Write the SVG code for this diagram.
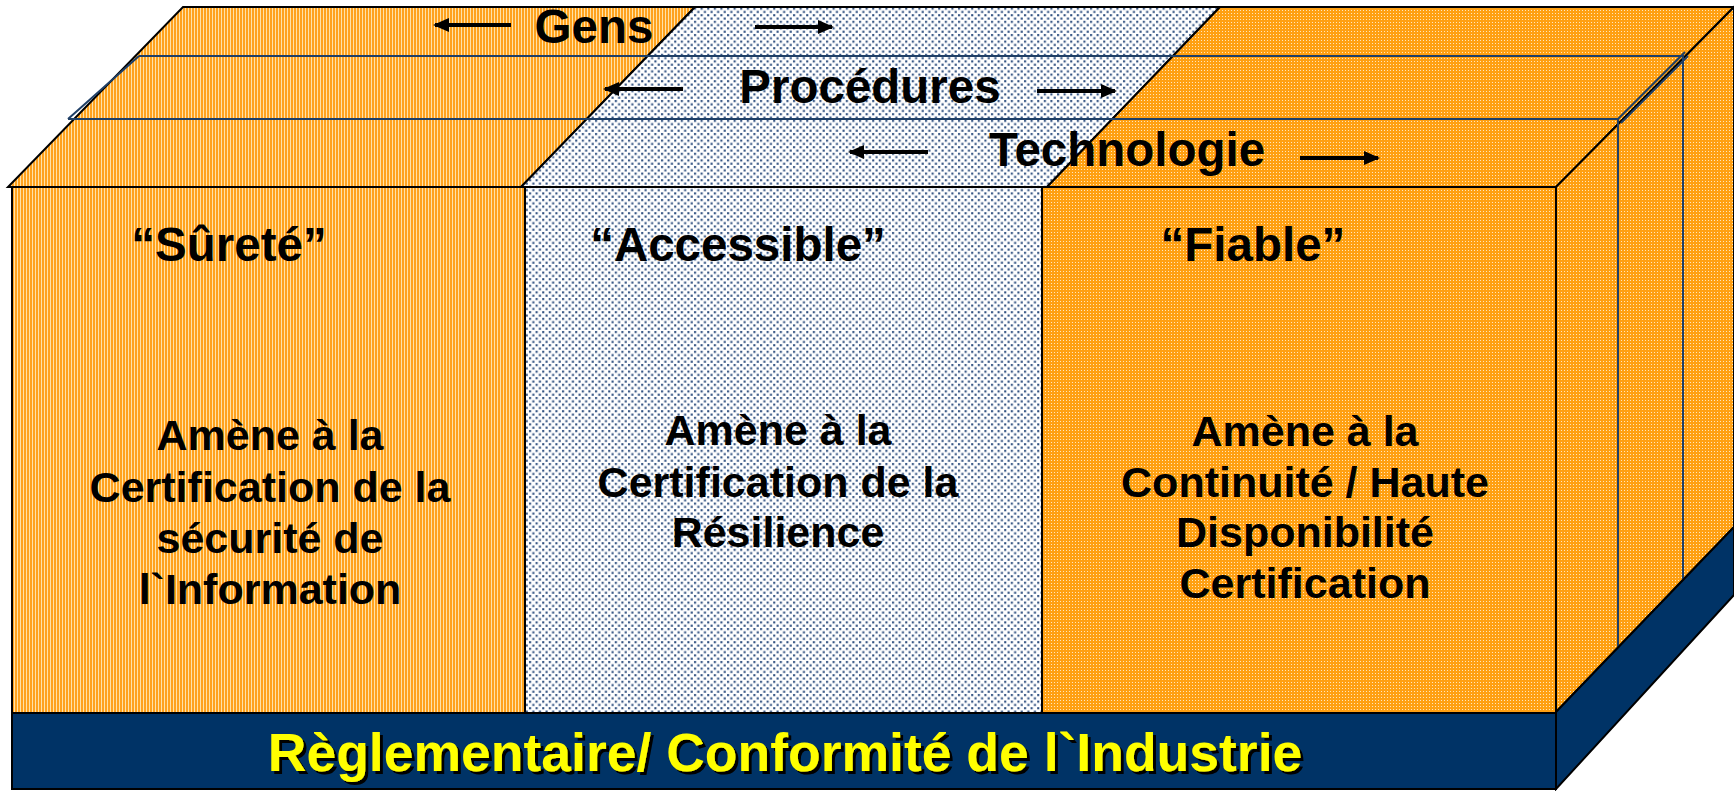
<svg xmlns="http://www.w3.org/2000/svg" width="1734" height="791" viewBox="0 0 1734 791">
  <defs>
    <pattern id="stripes" width="3" height="6" patternUnits="userSpaceOnUse">
      <rect width="3" height="6" fill="#FFA21E"/>
      <rect x="2" width="1" height="6" fill="#FFE2A8"/>
    </pattern>
    <pattern id="grid" width="3" height="3" patternUnits="userSpaceOnUse">
      <rect width="3" height="3" fill="#FFA012"/>
      <rect x="1" y="1" width="1" height="1" fill="#FFE6BC"/>
    </pattern>
    <pattern id="dots" width="6.6" height="6.6" patternUnits="userSpaceOnUse">
      <rect width="6.6" height="6.6" fill="#FFFFFF"/>
      <rect x="1" y="1" width="2.1" height="2.1" fill="#2F5080"/>
      <rect x="4.3" y="4.3" width="2.1" height="2.1" fill="#2F5080"/>
    </pattern>
    <marker id="head" viewBox="0 0 16 14" refX="14" refY="7" markerWidth="16" markerHeight="14" markerUnits="userSpaceOnUse" orient="auto">
      <path d="M0,0 L16,7 L0,14 z" fill="#000"/>
    </marker>
    <filter id="shadow" x="-5%" y="-20%" width="110%" height="140%">
      <feDropShadow dx="3" dy="3" stdDeviation="0" flood-color="#000"/>
    </filter>
  </defs>
  <style>
    .edge { stroke: #000; stroke-width: 2; stroke-linejoin: miter; }
    .layer { fill: none; stroke: #1F3F66; stroke-width: 2; }
    .lbl { font-family: "Liberation Sans", Arial, sans-serif; font-weight: bold; fill: #000; text-anchor: middle; }
    .big { font-size: 47.5px; }
    .body { font-size: 43px; }
    .band-txt { font-family: "Liberation Sans", Arial, sans-serif; font-weight: bold; font-size: 53.5px; fill: #FFFF00; text-anchor: middle; }
    .arr { stroke: #000; stroke-width: 4; fill: none; marker-end: url(#head); }
  </style>

  <g id="top-face">
    <polygon class="edge" points="183,7 695,7 521,187 8,187" fill="url(#stripes)"/>
    <polygon class="edge" points="695,7 1220,7 1047,187 521,187" fill="url(#dots)"/>
    <polygon class="edge" points="1220,7 1734,7 1556,187 1047,187" fill="url(#grid)"/>
  </g>

  <g id="right-face">
    <polygon class="edge" points="1556,187 1734,7 1734,527 1556,712" fill="url(#grid)"/>
  </g>

  <g id="col-surete">
    <rect class="edge" x="12" y="187" width="513" height="526" fill="url(#stripes)"/>
    <text class="lbl big" x="229" y="261">“Sûreté”</text>
    <text class="lbl body" x="270" y="450">Amène à la</text>
    <text class="lbl body" x="270" y="502">Certification de la</text>
    <text class="lbl body" x="270" y="553">sécurité de</text>
    <text class="lbl body" x="270" y="604">l`Information</text>
  </g>

  <g id="col-accessible">
    <rect class="edge" x="525" y="187" width="517" height="526" fill="url(#dots)"/>
    <text class="lbl big" x="738" y="261">“Accessible”</text>
    <text class="lbl body" x="778" y="445">Amène à la</text>
    <text class="lbl body" x="778" y="497">Certification de la</text>
    <text class="lbl body" x="778" y="547">Résilience</text>
  </g>

  <g id="col-fiable">
    <rect class="edge" x="1042" y="187" width="514" height="526" fill="url(#grid)"/>
    <text class="lbl big" x="1253" y="261">“Fiable”</text>
    <text class="lbl body" x="1305" y="446">Amène à la</text>
    <text class="lbl body" x="1305" y="497">Continuité / Haute</text>
    <text class="lbl body" x="1305" y="547">Disponibilité</text>
    <text class="lbl body" x="1305" y="598">Certification</text>
  </g>

  <g id="layers">
    <path class="layer" d="M139,56 H1683 M68,119 H1618 M139,56 L68,119 M1685,52 L1618,119 M1688,56 L1621,123 M1683,55 V580 M1618,119 V648"/>
  </g>

  <g id="band">
    <rect class="edge" x="12" y="713" width="1544" height="76" fill="#003366"/>
    <polygon class="edge" points="1556,712 1734,527 1734,595 1556,789" fill="#003366"/>
    <text class="band-txt" x="785" y="771" filter="url(#shadow)">Règlementaire/ Conformité de l`Industrie</text>
  </g>

  <g id="layer-labels">
    <text class="lbl big" x="594" y="43">Gens</text>
    <text class="lbl big" x="870" y="103">Procédures</text>
    <text class="lbl big" x="1127" y="166">Technologie</text>
  </g>

  <g id="connectors">
    <line class="arr" x1="511" y1="25" x2="435" y2="25"/>
    <line class="arr" x1="755" y1="27" x2="832" y2="27"/>
    <line class="arr" x1="683" y1="89" x2="605" y2="89"/>
    <line class="arr" x1="1037" y1="91" x2="1115" y2="91"/>
    <line class="arr" x1="928" y1="152" x2="850" y2="152"/>
    <line class="arr" x1="1300" y1="158" x2="1378" y2="158"/>
  </g>
</svg>
